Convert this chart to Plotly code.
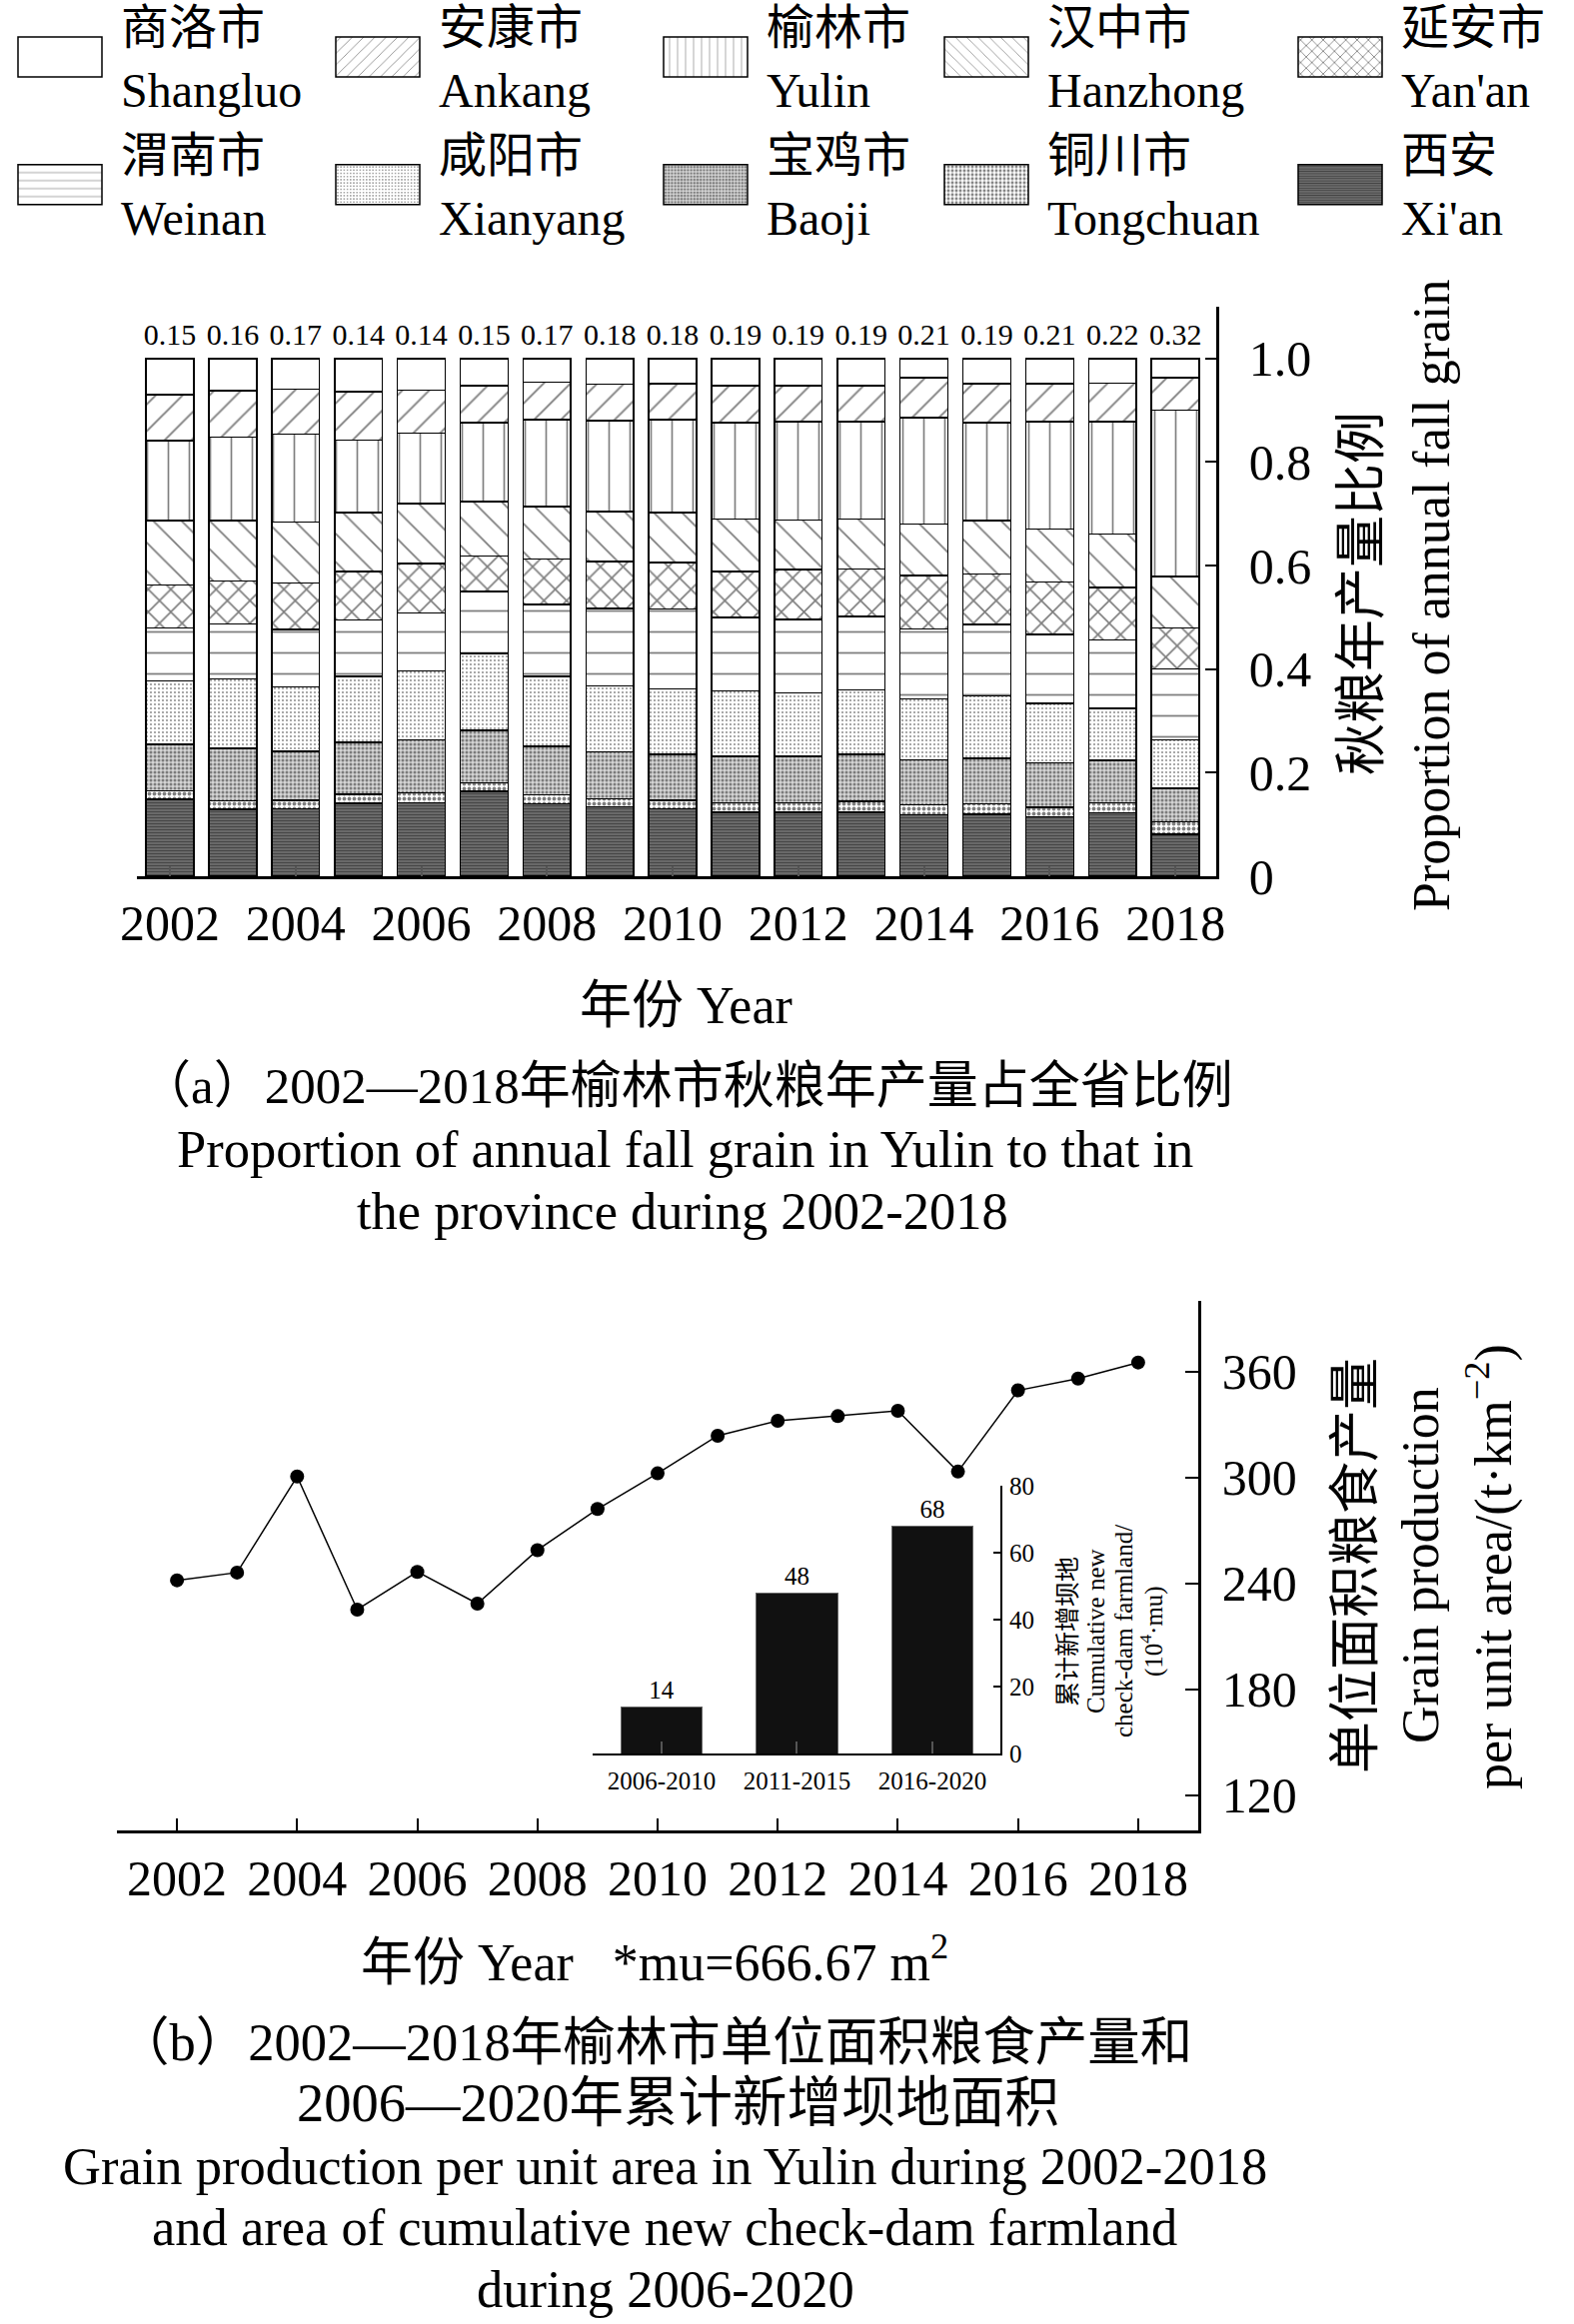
import plotly.graph_objects as go

# ---------------- data (a) ----------------
years = list(range(2002, 2019))
xian      = [0.149, 0.129, 0.130, 0.141, 0.142, 0.164, 0.140, 0.134, 0.130, 0.124, 0.124, 0.124, 0.119, 0.120, 0.115, 0.123, 0.081]
tongchuan = [0.016, 0.017, 0.017, 0.017, 0.019, 0.016, 0.017, 0.016, 0.017, 0.018, 0.018, 0.021, 0.019, 0.020, 0.018, 0.019, 0.024]
baoji     = [0.090, 0.101, 0.094, 0.101, 0.102, 0.102, 0.094, 0.090, 0.088, 0.090, 0.090, 0.090, 0.087, 0.088, 0.086, 0.082, 0.065]
xianyang  = [0.122, 0.134, 0.125, 0.127, 0.134, 0.148, 0.135, 0.128, 0.127, 0.126, 0.122, 0.125, 0.118, 0.120, 0.115, 0.100, 0.093]
weinan    = [0.103, 0.106, 0.111, 0.109, 0.112, 0.120, 0.139, 0.149, 0.154, 0.142, 0.142, 0.142, 0.135, 0.138, 0.133, 0.132, 0.137]
yanan     = [0.083, 0.083, 0.089, 0.094, 0.095, 0.069, 0.088, 0.091, 0.090, 0.089, 0.096, 0.091, 0.103, 0.098, 0.101, 0.102, 0.080]
hanzhong  = [0.124, 0.117, 0.118, 0.113, 0.116, 0.105, 0.101, 0.096, 0.096, 0.101, 0.096, 0.097, 0.099, 0.103, 0.103, 0.103, 0.099]
yulin     = [0.154, 0.161, 0.170, 0.140, 0.136, 0.152, 0.168, 0.176, 0.180, 0.186, 0.190, 0.188, 0.206, 0.189, 0.207, 0.217, 0.321]
ankang    = [0.089, 0.090, 0.087, 0.094, 0.083, 0.072, 0.072, 0.070, 0.069, 0.072, 0.070, 0.070, 0.077, 0.075, 0.073, 0.074, 0.063]
shangluo  = [0.070, 0.062, 0.059, 0.064, 0.061, 0.052, 0.046, 0.050, 0.049, 0.052, 0.052, 0.052, 0.037, 0.049, 0.049, 0.048, 0.037]
yulin_labels = ["0.15", "0.16", "0.17", "0.14", "0.14", "0.15", "0.17", "0.18", "0.18",
                "0.19", "0.19", "0.19", "0.21", "0.19", "0.21", "0.22", "0.32"]
year_ticks = [2002, 2004, 2006, 2008, 2010, 2012, 2014, 2016, 2018]
share_ticks = [0, 0.2, 0.4, 0.6, 0.8, 1.0]
share_ticktext = ["0", "0.2", "0.4", "0.6", "0.8", "1.0"]

# ---------------- data (b) ----------------
grain = [241.7, 246.1, 300.5, 225.1, 246.5, 228.5, 258.8, 282.1, 302.3,
         323.6, 332.1, 334.7, 337.7, 303.3, 349.3, 356.0, 365.1]
grain_ticks = [120, 180, 240, 300, 360]
periods = ["2006-2010", "2011-2015", "2016-2020"]
dam_area = [14, 48, 68]
dam_ticks = [0, 20, 40, 60, 80]

FONT = "Liberation Serif, Noto Sans CJK SC"
W, H = 1575, 2326


def px_x(p):
    return p / W


def px_y(p):
    return 1 - p / H


# series in stacking order (bottom first): name, values, pattern, legend id
series = [
    ("西安<br>Xi'an", xian, dict(shape="-", size=3, solidity=0.55, fgcolor="#111111", bgcolor="#7a7a7a"), "legend5"),
    ("铜川市<br>Tongchuan", tongchuan, dict(shape=".", size=5, solidity=0.45, fgcolor="#000000", bgcolor="#ffffff"), "legend4"),
    ("宝鸡市<br>Baoji", baoji, dict(shape=".", size=4, solidity=0.45, fgcolor="#222222", bgcolor="#d5d5d5"), "legend3"),
    ("咸阳市<br>Xianyang", xianyang, dict(shape=".", size=4, solidity=0.16, fgcolor="#000000", bgcolor="#ffffff"), "legend2"),
    ("渭南市<br>Weinan", weinan, dict(shape="-", size=21, solidity=0.085, fgcolor="#000000", bgcolor="#ffffff"), "legend"),
    ("延安市<br>Yan'an", yanan, dict(shape="x", size=16, solidity=0.2, fgcolor="#000000", bgcolor="#ffffff"), "legend5"),
    ("汉中市<br>Hanzhong", hanzhong, dict(shape="\\", size=20, solidity=0.09, fgcolor="#000000", bgcolor="#ffffff"), "legend4"),
    ("榆林市<br>Yulin", yulin, dict(shape="|", size=21, solidity=0.08, fgcolor="#000000", bgcolor="#ffffff"), "legend3"),
    ("安康市<br>Ankang", ankang, dict(shape="/", size=19, solidity=0.1, fgcolor="#000000", bgcolor="#ffffff"), "legend2"),
    ("商洛市<br>Shangluo", shangluo, dict(shape="", fgcolor="#000000", bgcolor="#ffffff"), "legend"),
]

fig = go.Figure()
for name, vals, pat, lg in series:
    fig.add_trace(go.Bar(
        x=years, y=vals, name=name, xaxis="x", yaxis="y",
        marker=dict(color="#ffffff", pattern=pat, line=dict(color="#000000", width=1.5)),
        legend=lg, showlegend=True, hoverinfo="skip",
    ))

totals = [sum(v) for v in zip(*[s[1] for s in series])]
fig.add_trace(go.Scatter(
    x=years, y=totals, mode="markers+text", text=yulin_labels, textposition="top center",
    marker=dict(size=8, color="rgba(0,0,0,0)"),
    textfont=dict(family=FONT, size=30, color="#000000"),
    xaxis="x", yaxis="y", showlegend=False, hoverinfo="skip", cliponaxis=False,
))

fig.add_trace(go.Scatter(
    x=years, y=grain, mode="lines+markers",
    line=dict(color="#000000", width=1.5),
    marker=dict(color="#000000", size=14),
    xaxis="x2", yaxis="y2", showlegend=False, hoverinfo="skip",
))

fig.add_trace(go.Bar(
    x=periods, y=dam_area, width=0.6, text=[str(v) for v in dam_area],
    textposition="outside", textfont=dict(family=FONT, size=25, color="#000000"),
    marker=dict(color="#111111", line=dict(color="#666666", width=1)),
    xaxis="x3", yaxis="y3", showlegend=False, hoverinfo="skip", cliponaxis=False,
))

axis_common = dict(showgrid=False, zeroline=False, showline=True, linecolor="#000000",
                   tickcolor="#000000", tickfont=dict(family=FONT, size=50, color="#000000"))

legend_common = dict(
    orientation="v", traceorder="reversed", itemwidth=112, valign="middle",
    font=dict(family=FONT, size=48, color="#000000"),
    bgcolor="rgba(0,0,0,0)", borderwidth=0, xanchor="left", yanchor="top",
    itemclick=False, itemdoubleclick=False, tracegroupgap=0,
)
legend_x = [-1, 317, 645, 926, 1280]
legend_top = 1 + 12 / H

fig.update_layout(
    width=W, height=H,
    margin=dict(l=0, r=0, t=0, b=0, autoexpand=False),
    paper_bgcolor="#ffffff", plot_bgcolor="rgba(0,0,0,0)",
    barmode="stack", bargap=0.24,
    font=dict(family=FONT, color="#000000"),
    legend=dict(legend_common, x=px_x(legend_x[0]), y=legend_top),
    legend2=dict(legend_common, x=px_x(legend_x[1]), y=legend_top),
    legend3=dict(legend_common, x=px_x(legend_x[2]), y=legend_top),
    legend4=dict(legend_common, x=px_x(legend_x[3]), y=legend_top),
    legend5=dict(legend_common, x=px_x(legend_x[4]), y=legend_top),
    xaxis=dict(axis_common, domain=[px_x(137), px_x(1217)], anchor="y",
               range=[2001.475, 2018.65], tickvals=year_ticks, ticks="inside",
               ticklen=10, tickwidth=1.5, tickcolor="#555555", linewidth=2.5,
               ticklabelstandoff=1),
    yaxis=dict(axis_common, domain=[px_y(877), px_y(307)], anchor="x", side="right",
               range=[0, 1.1], tickvals=share_ticks, ticktext=share_ticktext,
               ticks="inside", ticklen=11, tickwidth=2, linewidth=2.5,
               ticklabelstandoff=20),
    xaxis2=dict(axis_common, domain=[px_x(117), px_x(1199)], anchor="y2",
                range=[2001, 2019], tickvals=year_ticks, ticks="inside",
                ticklen=12, tickwidth=2, linewidth=2.5, ticklabelstandoff=2),
    yaxis2=dict(axis_common, domain=[px_y(1832), px_y(1302)], anchor="x2", side="right",
                range=[100, 400], tickvals=grain_ticks, ticks="inside",
                ticklen=13, tickwidth=2, linewidth=2.5, ticklabelstandoff=11),
    xaxis3=dict(axis_common, domain=[px_x(593), px_x(1001)], anchor="y3", type="category",
                range=[-0.509, 2.502], ticks="inside", ticklen=12, tickwidth=1.5,
                tickcolor="#555555", linewidth=2,
                tickfont=dict(family=FONT, size=25, color="#000000"), ticklabelstandoff=4),
    yaxis3=dict(axis_common, domain=[px_y(1755), px_y(1487)], anchor="x3", side="right",
                range=[0, 80], tickvals=dam_ticks, ticks="inside", ticklen=7,
                tickwidth=1.5, linewidth=2,
                tickfont=dict(family=FONT, size=25, color="#000000"), ticklabelstandoff=2),
)


def note(text, x, y, size=52, angle=0):
    fig.add_annotation(text=text, x=px_x(x), y=px_y(y), xref="paper", yref="paper",
                       xanchor="center", yanchor="middle", showarrow=False,
                       textangle=angle, font=dict(family=FONT, size=size, color="#000000"))


# (a) axis titles and caption
note("秋粮年产量比例", 1362, 594, angle=-90)
note("Proportion of annual fall grain", 1432, 596, angle=-90)
note("年份 Year", 686, 1006)
caption_a = [
    ("（a）2002—2018年榆林市秋粮年产量占全省比例", 687, 1087, 51),
    ("Proportion of annual fall grain in Yulin to that in", 685, 1150, 52.5),
    ("the province during 2002-2018", 683, 1212, 52.5),
]
for t, cx, cy, fs in caption_a:
    note(t, cx, cy, size=fs)

# (b) axis titles, inset title and caption
note("单位面积粮食产量", 1356, 1567, angle=-90)
note("Grain production", 1421, 1567, angle=-90)
note("per unit area/(t·km<sup>−2</sup>)", 1491, 1568, angle=-90)
inset_title = [
    ("累计新增坝地", 1068),
    ("Cumulative new", 1096),
    ("check-dam farmland/", 1124),
    ("(10<sup>4</sup>·mu)", 1152),
]
for t, cx in inset_title:
    note(t, cx, 1633, size=25, angle=-90)
note("年份 Year   *mu=666.67 m<sup>2</sup>", 655, 1960)
caption_b = [
    ("（b）2002—2018年榆林市单位面积粮食产量和", 655, 2044, 52.5),
    ("2006—2020年累计新增坝地面积", 678, 2104, 54.5),
    ("Grain production per unit area in Yulin during 2002-2018", 665, 2168, 52.5),
    ("and area of cumulative new check-dam farmland", 665, 2229, 52.5),
    ("during 2006-2020", 666, 2291, 52.5),
]
for t, cx, cy, fs in caption_b:
    note(t, cx, cy, size=fs)

post = """
document.body.style.margin = '0';
var gd = document.getElementById('{plot_id}');
gd.querySelectorAll('.legendpoints path').forEach(function(p){
  p.setAttribute('d', 'M42,20H-42V-20H42Z');
});
"""

fig.write_html("out.html", config={"displayModeBar": False}, post_script=post)
